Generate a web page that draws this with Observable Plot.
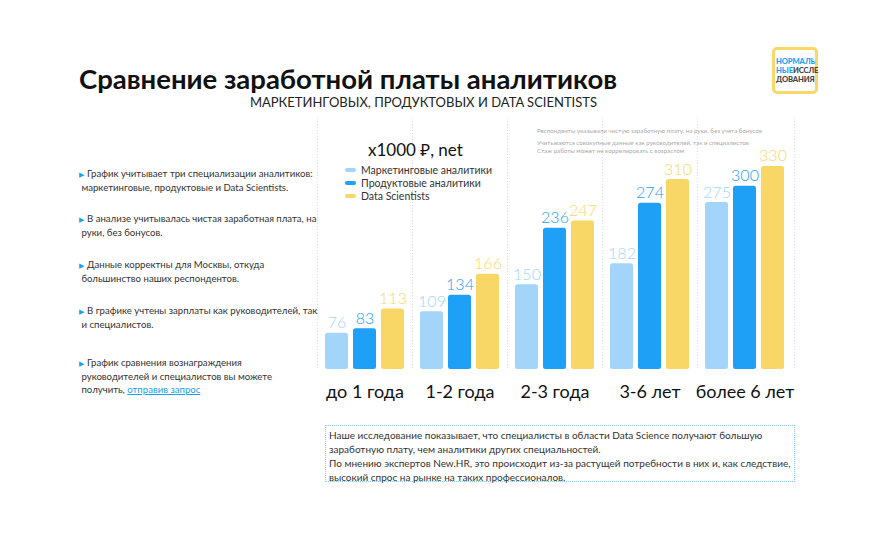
<!DOCTYPE html>
<html><head><meta charset="utf-8">
<script src="https://cdn.jsdelivr.net/npm/d3@7"></script>
<script src="https://cdn.jsdelivr.net/npm/@observablehq/plot@0.6"></script>
<style>
body{margin:0;width:884px;height:538px;background:#fff;position:relative;overflow:hidden;font-family:Lato,"Noto Sans",sans-serif;color:#333;}
.abs{position:absolute;white-space:nowrap;}
.bullet{font-size:9.6px;line-height:13px;color:#333;}
.bullet .m{color:#1a9ff5;font-size:7px;margin-right:3px;}
.leg{font-size:10.5px;line-height:13px;color:#333;}
.sw{display:inline-block;width:11px;height:4px;border-radius:2px;margin-right:5px;vertical-align:middle;position:relative;top:-1px;}
.note{font-size:6.2px;line-height:8px;color:#aaa;}
.logo{font-size:7.6px;line-height:9.2px;font-weight:900;letter-spacing:-0.1px;color:#444;}
</style></head><body>
<div id="chart" class="abs" style="left:0;top:0"></div>

<div class="abs" style="left:79px;top:62px;font-size:27.5px;font-weight:700;color:#111;">Сравнение заработной платы аналитиков</div>
<div class="abs" style="right:287px;top:94px;font-size:13px;color:#222;">МАРКЕТИНГОВЫХ, ПРОДУКТОВЫХ И DATA SCIENTISTS</div>

<div class="abs" style="left:772px;top:47px;width:40px;height:41px;border:3px solid #f9d768;border-radius:5px;"></div>
<div class="abs logo" style="left:776px;top:57px;"><span style="color:#1a9ff5">НОРМАЛЬ</span></div>
<div class="abs logo" style="left:776px;top:66.2px;"><span style="color:#1a9ff5">НЫЕ</span>ИССЛЕ</div>
<div class="abs logo" style="left:776px;top:75.4px;">ДОВАНИЯ</div>

<div class="abs bullet" style="left:79px;top:167px;"><span class="m">▶</span>График учитывает три специализации аналитиков:<br>&nbsp;маркетинговые, продуктовые и Data Scientists.</div>
<div class="abs bullet" style="left:79px;top:212px;"><span class="m">▶</span>В анализе учитывалась чистая заработная плата, на<br>&nbsp;руки, без бонусов.</div>
<div class="abs bullet" style="left:79px;top:258px;"><span class="m">▶</span>Данные корректны для Москвы, откуда<br>&nbsp;большинство наших респондентов.</div>
<div class="abs bullet" style="left:79px;top:304px;"><span class="m">▶</span>В графике учтены зарплаты как руководителей, так<br>&nbsp;и специалистов.</div>
<div class="abs bullet" style="left:79px;top:356px;"><span class="m">▶</span>График сравнения вознаграждения<br>&nbsp;руководителей и специалистов вы можете<br>&nbsp;получить, <span style="color:#1a9ff5;text-decoration:underline;">отправив запрос</span></div>

<div class="abs" style="left:368px;top:138px;font-size:17px;color:#111;">x1000 ₽, net</div>
<div id="legend" class="abs leg" style="left:345px;top:164px;"></div>

<div class="abs note" style="left:537px;top:127px;">Респонденты указывали чистую заработную плату, на руки, без учета бонусов</div>
<div class="abs note" style="left:537px;top:139px;">Учитываются совокупные данные как руководителей, так и специалистов<br>Стаж работы может не коррелировать с возрастом</div>

<div class="abs" style="left:325px;top:425px;width:462px;height:51px;border:1px dotted #8ccaf5;padding:2px 3px 2px 3px;font-size:10px;line-height:14px;color:#333;">Наше исследование показывает, что специалисты в области Data Science получают большую<br>заработную плату, чем аналитики других специальностей.<br>По мнению экспертов New.HR, это происходит из-за растущей потребности в них и, как следствие,<br>высокий спрос на рынке на таких профессионалов.</div>

<script>
const categories = ["до 1 года", "1-2 года", "2-3 года", "3-6 лет", "более 6 лет"];
const seriesNames = ["Маркетинговые аналитики", "Продуктовые аналитики", "Data Scientists"];
const marketing = [76, 109, 150, 182, 275];
const product = [83, 134, 236, 274, 300];
const dataScientists = [113, 166, 247, 310, 330];
const colors = ["#a3d5fb", "#1ea0f6", "#f8d766"];
const yBase = 21;
const yTop = 403;

const seriesValues = [marketing, product, dataScientists];
const rows = [];
categories.forEach((c, i) => seriesNames.forEach((s, j) => rows.push({cat: c, series: s, value: seriesValues[j][i]})));

const chart = Plot.plot({
  width: 884, height: 538,
  marginLeft: 324, marginRight: 99, marginTop: 118, marginBottom: 169,
  style: {fontFamily: "Lato, 'Noto Sans', sans-serif", background: "transparent"},
  fx: {domain: categories, paddingInner: 0.168, paddingOuter: 0, label: null},
  x: {domain: seriesNames, paddingInner: 0.18, paddingOuter: 0, axis: null},
  y: {domain: [yBase, yTop], axis: null},
  color: {domain: seriesNames, range: colors},
  marks: [
    Plot.ruleX(categories, {fx: d => d, x: () => seriesNames[0], dx: -19.5, stroke: "#ddd", strokeDasharray: "1,2"}),
    Plot.ruleX(categories.slice(-1), {fx: d => d, x: () => seriesNames[2], dx: 21.5, stroke: "#ddd", strokeDasharray: "1,2"}),
    Plot.barY(rows, {fx: "cat", x: "series", y1: () => yBase, y2: "value", fill: "series", rx: 2.5}),
    Plot.text(rows, {fx: "cat", x: "series", y: "value", text: d => String(d.value), fill: "series", fontSize: 16, fontWeight: 300, lineAnchor: "bottom", dy: -5}),
    Plot.axisFx({anchor: "bottom", tickSize: 0, tickPadding: 16, fontSize: 18, label: null, color: "#111"})
  ]
});
document.getElementById("chart").appendChild(chart);

const leg = document.getElementById("legend");
seriesNames.forEach((s, j) => {
  const d = document.createElement("div");
  d.innerHTML = `<span class="sw" style="background:${colors[j]}"></span>${s}`;
  leg.appendChild(d);
});
</script>
</body></html>
